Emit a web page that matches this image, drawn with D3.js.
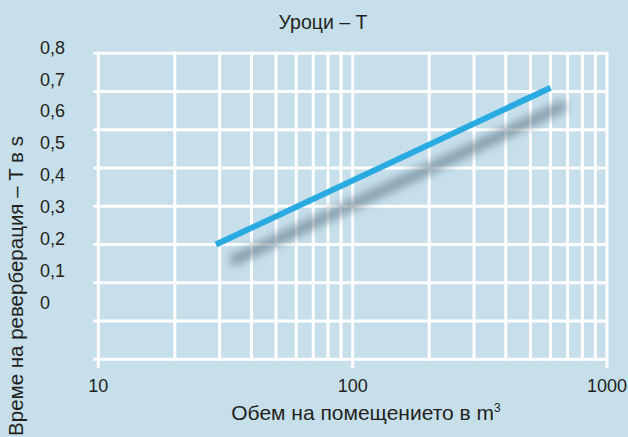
<!DOCTYPE html>
<meta charset="utf-8">
<style>
body { margin: 0; background: #c6dfeb; }
svg { display: block; font-family: "Liberation Sans", Arial, sans-serif; }
.grid line { stroke: #fff; stroke-width: 3; }
.lbl { fill: #231f20; }
</style>
<body>
<svg width="628" height="437"></svg>
<script src="https://d3js.org/d3.v7.min.js"></script>
<script>
// data
var volumes = [29, 600];          // m3
var reverb = [0.30, 0.71];        // s, on the grid scale
var xLabels = [10, 100, 1000];
var yLabelValues = [0, 0.1, 0.2, 0.3, 0.4, 0.5, 0.6, 0.7, 0.8];
var gridValues = [0, 0.1, 0.2, 0.3, 0.4, 0.5, 0.6, 0.7, 0.8];

var svg = d3.select("svg");
var plotL = 98.3, plotR = 607, plotT = 53.3, plotB = 359.3;

var x = d3.scaleLog().domain([10, 1000]).range([plotL, plotR]);
var y = d3.scaleLinear().domain([0, 0.8]).range([plotB, plotT]);
// the printed labels sit on their own spacing, not on the grid lines
var yLab = d3.scaleLinear().domain([0, 0.8]).range([302.7, 47.3]);

svg.append("rect").attr("width", 628).attr("height", 437).attr("fill", "#c6dfeb");

var defs = svg.append("defs");
defs.append("filter").attr("id", "blur")
    .attr("x", "-20%").attr("y", "-50%").attr("width", "140%").attr("height", "200%")
  .append("feGaussianBlur").attr("stdDeviation", 5);

var grid = svg.append("g").attr("class", "grid");

grid.selectAll(".h").data(gridValues).enter().append("line")
    .attr("x1", plotL - 5).attr("x2", plotR)
    .attr("y1", function(d) { return y(d); })
    .attr("y2", function(d) { return y(d); });

grid.selectAll(".v").data(x.ticks()).enter().append("line")
    .attr("x1", function(d) { return x(d); })
    .attr("x2", function(d) { return x(d); })
    .attr("y1", plotT - 1.5)
    .attr("y2", function(d) { return xLabels.indexOf(d) >= 0 ? plotB + 9 : plotB + 1.5; });

var pts = volumes.map(function(v, i) { return [x(v), y(reverb[i])]; });
var line = d3.line();

// soft shadow under the curve
svg.append("path")
    .attr("d", line(pts))
    .attr("transform", "translate(15,17)")
    .attr("fill", "none")
    .attr("stroke", "#5f7685")
    .attr("stroke-width", 10)
    .attr("opacity", 0.7)
    .attr("filter", "url(#blur)");

svg.append("path")
    .attr("d", line(pts))
    .attr("fill", "none")
    .attr("stroke", "#29abe2")
    .attr("stroke-width", 6);

// y labels
svg.selectAll(".ylab").data(yLabelValues).enter().append("text")
    .attr("class", "lbl")
    .attr("x", 40)
    .attr("y", function(d) { return yLab(d); })
    .attr("dy", "0.35em")
    .style("font-size", "18px")
    .text(function(d) { return d3.format(".1~f")(d).replace(".", ","); });

// x labels
svg.selectAll(".xlab").data(xLabels).enter().append("text")
    .attr("class", "lbl")
    .attr("x", function(d) { return x(d); })
    .attr("y", 391.5)
    .attr("text-anchor", "middle")
    .style("font-size", "18px")
    .text(function(d) { return d; });

svg.append("text")
    .attr("class", "lbl")
    .attr("x", 323).attr("y", 29)
    .attr("text-anchor", "middle")
    .style("font-size", "19.5px")
    .text("Уроци – T");

var xt = svg.append("text")
    .attr("class", "lbl")
    .attr("x", 366).attr("y", 420)
    .attr("text-anchor", "middle")
    .style("font-size", "21px")
    .text("Обем на помещението в m");
xt.append("tspan").attr("dy", -8).style("font-size", "12px").text("3");

svg.append("text")
    .attr("class", "lbl")
    .attr("transform", "translate(23,286) rotate(-90)")
    .attr("text-anchor", "middle")
    .style("font-size", "20.5px")
    .text("Време на реверберация – T в s");
</script>
</body>
